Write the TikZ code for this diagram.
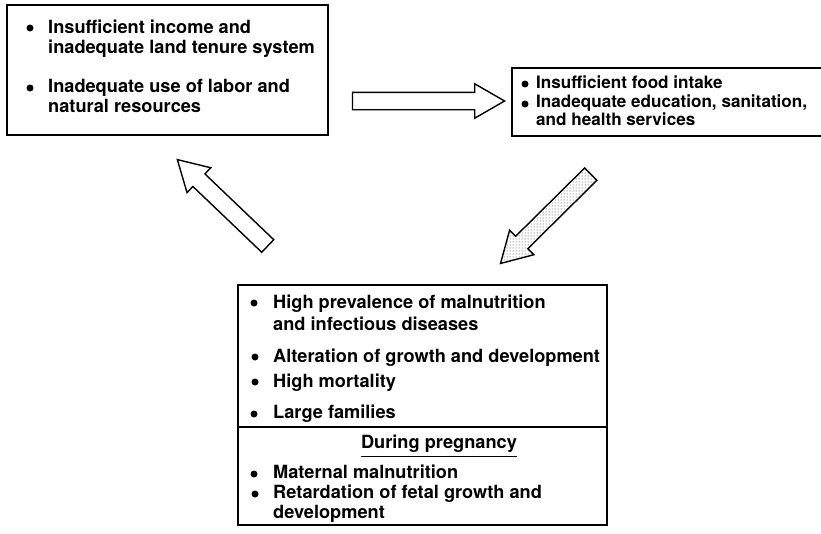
\documentclass[tikz,border=0pt]{standalone}
\usepackage{fontspec}
\setmainfont{TeX Gyre Heros}
\usepackage{tikz}
\usetikzlibrary{positioning,shapes.arrows,patterns}
\tikzset{
  box/.style={rectangle,draw=black,line width=1.6pt,inner sep=0pt},
  txt/.style={anchor=base west,inner sep=0pt,font=\bfseries\fontsize{18.2}{20}\selectfont},
  txtB/.style={txt,font=\bfseries\fontsize{17.1}{19}\selectfont},
  dot/.style={shape=circle,fill=black,inner sep=0pt,minimum size=7pt},
  blockarrow/.style={single arrow,draw=black,line width=1.4pt,inner xsep=0pt,inner ysep=8pt,
    minimum height=#1,minimum width=33pt,single arrow head extend=8.5pt,
    single arrow tip angle=60,single arrow head indent=0pt}
}

\begin{document}
\begin{tikzpicture}[x=1pt,y=-1pt]
  \useasboundingbox (0,0) rectangle (821,533);
  % the three boxes
  \node[box,minimum width=321pt,minimum height=130pt] (boxA) at (167.5,70) {};
  \node[box,minimum width=311pt,minimum height=68pt] (boxB) at (667.5,102) {};
  \node[box,minimum width=369pt,minimum height=240pt] (boxC) at (422.5,405) {};
  \coordinate (divL) at (238,427);
  \draw[line width=1.6pt] (divL) -- (divL -| boxC.east);

  % top left box
  \node[dot] (dA1) at (30,28) {};
  \node[txt] (tA1) at (48,33) {Insufficient income and};
  \node[txt] (tA1b) at ([yshift=-20pt]tA1.base west) {inadequate land tenure system};
  \node[dot] (dA2) at (30,88) {};
  \node[txt] (tA2) at (48,92) {Inadequate use of labor and};
  \node[txt] (tA2b) at ([yshift=-20pt]tA2.base west) {natural resources};

  % top right box
  \node[dot] (dB1) at (525,84) {};
  \node[txtB] (tB1) at (536,88) {Insufficient food intake};
  \node[dot] (dB2) at (525,104) {};
  \node[txtB] (tB2) at (536,107) {Inadequate education, sanitation,};
  \node[txtB] (tB2b) at ([yshift=-18pt]tB2.base west) {and health services};

  % bottom box
  \node[dot] (dC1) at (254,303) {};
  \node[txt] (tC1) at (273,308) {High prevalence of malnutrition};
  \node[txt] (tC1b) at ([yshift=-22pt]tC1.base west) {and infectious diseases};
  \node[dot] (dC2) at (255,357) {};
  \node[txt] (tC2) at (273,362) {Alteration of growth and development};
  \node[dot] (dC3) at (255,382) {};
  \node[txt] (tC3) at (273,387) {High mortality};
  \node[dot] (dC4) at (254,414) {};
  \node[txt] (tC4) at (273,418) {Large families};
  \node[txt,anchor=base] (preg) at (439,448) {During pregnancy};
  \draw[line width=1.3pt] ([yshift=-4pt]preg.south west) -- ([yshift=-4pt]preg.south east);
  \node[dot] (dC5) at (254,474) {};
  \node[txt] (tC5) at (273,478) {Maternal malnutrition};
  \node[dot] (dC6) at (255,494) {};
  \node[txt] (tC6) at (273,498) {Retardation of fetal growth and};
  \node[txt] (tC6b) at ([yshift=-20pt]tC6.base west) {development};

  % arrows of the cycle
  \node[blockarrow=152pt] (arAB) at (421,101) {};
  \node[blockarrow=127pt,rotate=-135.3,pattern=dots,pattern color=black!80] (arBC) at (551,213.5) {};
  \node[blockarrow=125pt,rotate=136.3] (arCA) at (228,208) {};
\end{tikzpicture}
\end{document}
